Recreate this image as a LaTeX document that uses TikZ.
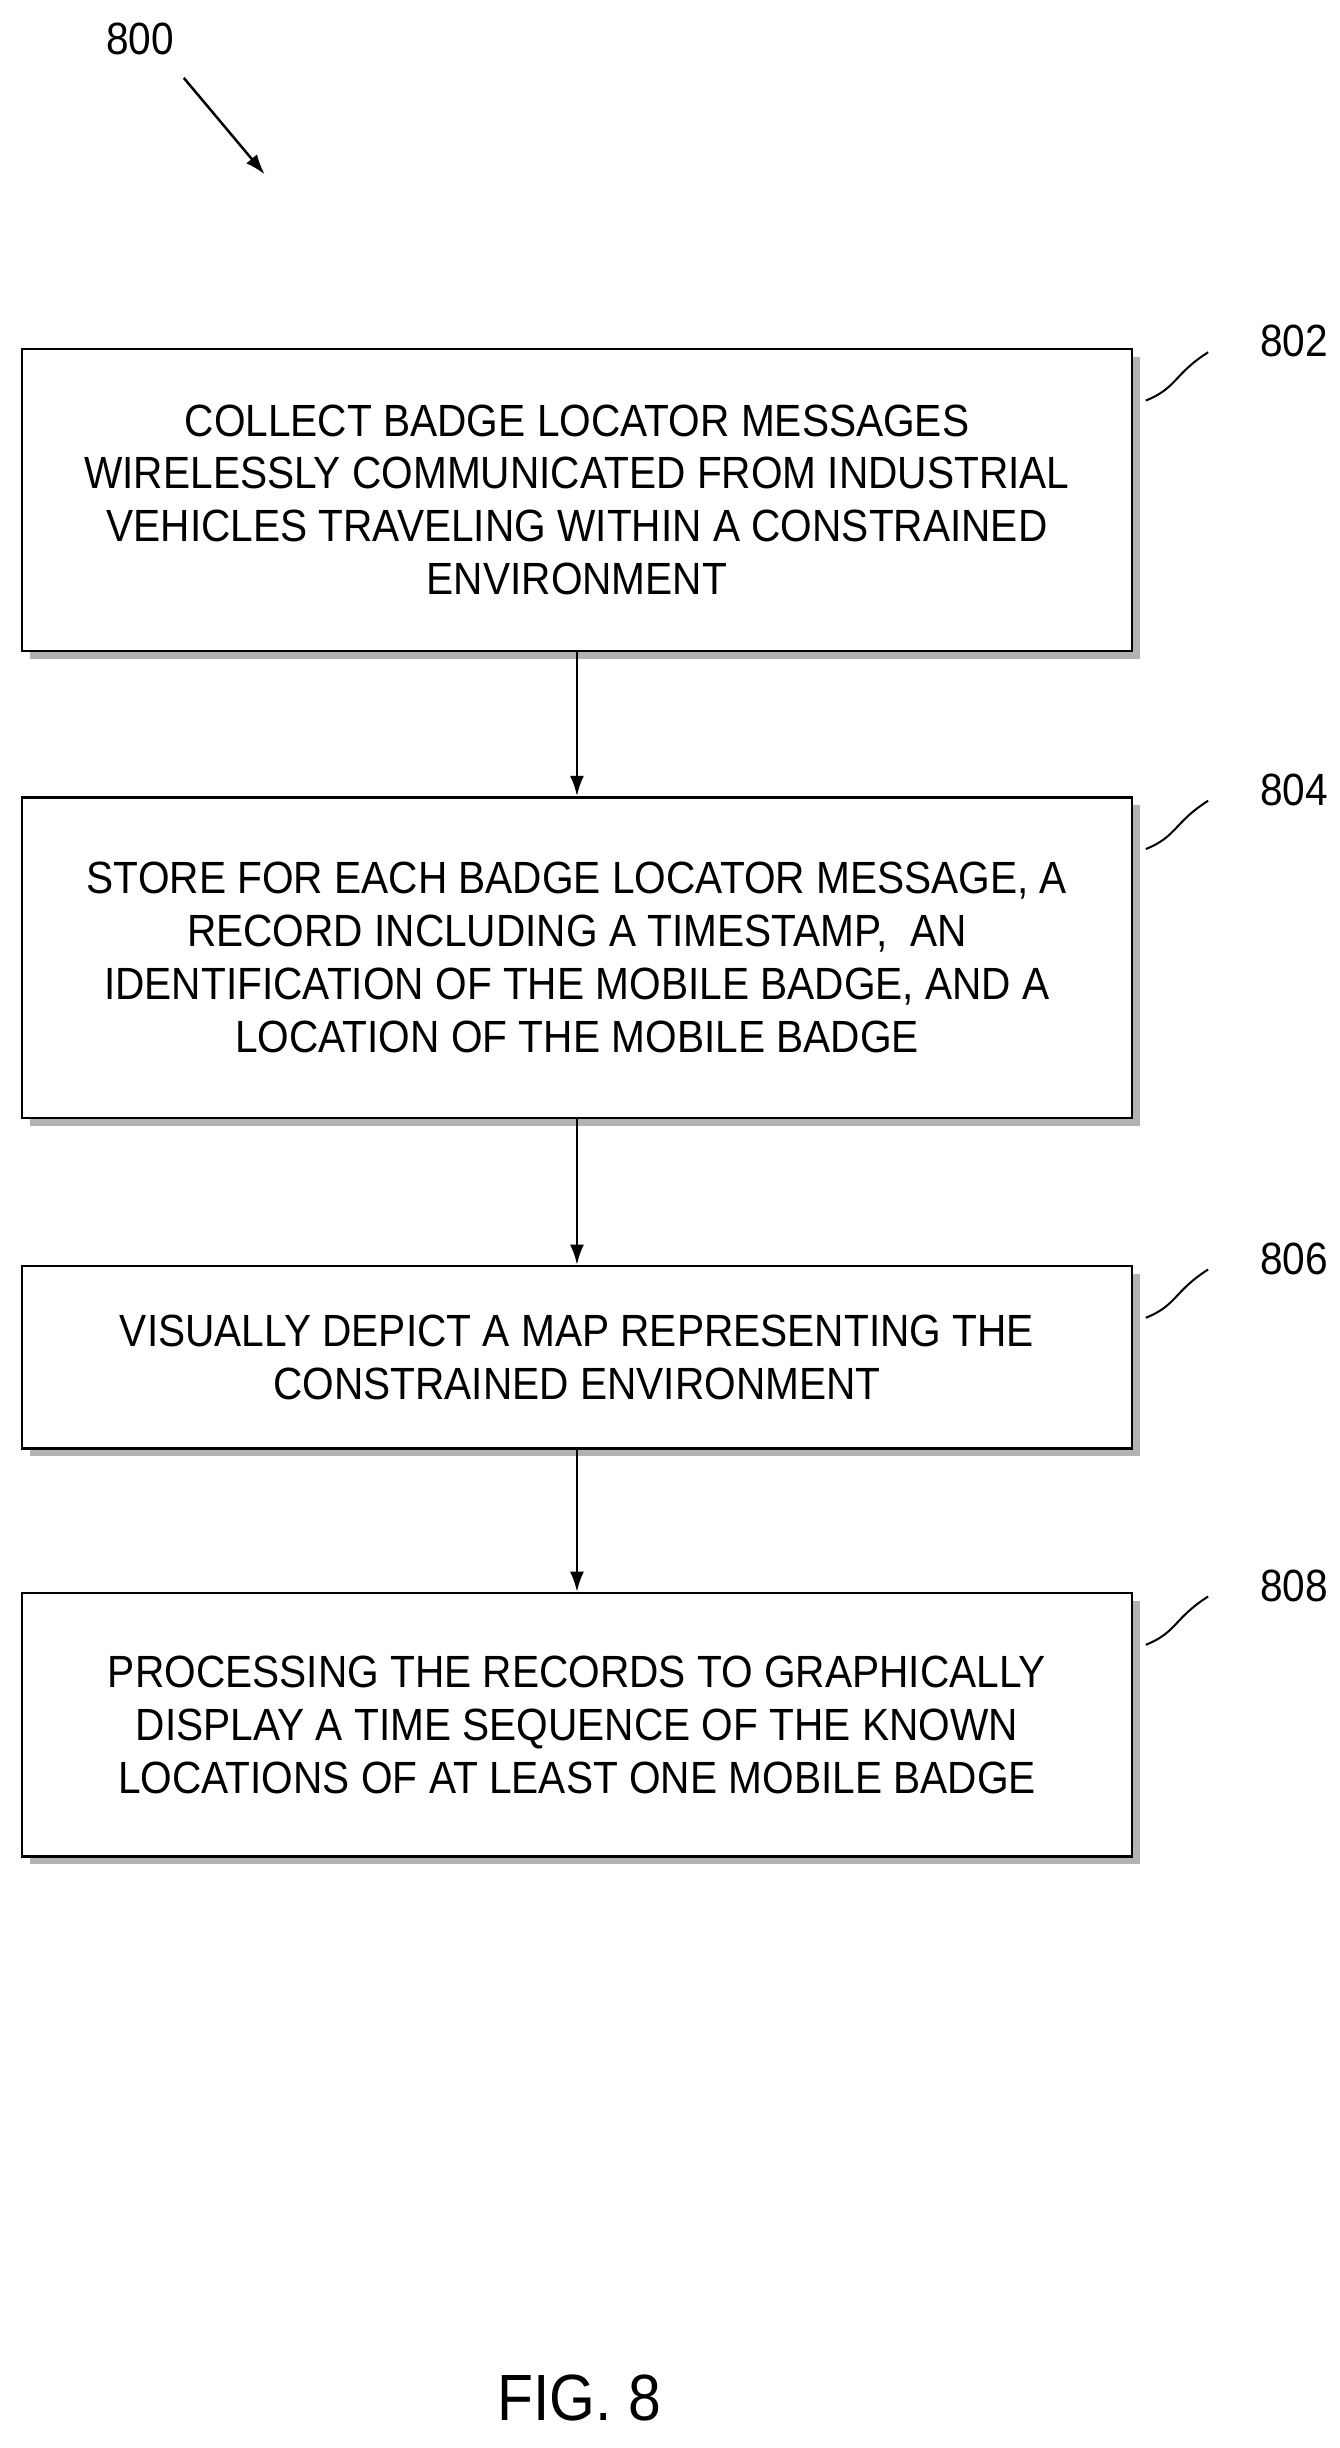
\documentclass[tikz,border=0pt]{standalone}
\usepackage{fontspec}
\setmainfont[FakeStretch=0.9]{Liberation Sans}
\usetikzlibrary{calc,shadows,arrows.meta}

\begin{document}
\begin{tikzpicture}[x=1pt,y=-1pt,
  stepbox/.style={draw,line width=1.6pt,fill=white,minimum width=713pt,align=center,
    font=\fontsize{29}{34}\selectfont,
    drop shadow={shadow xshift=5pt,shadow yshift=-5pt,fill=gray!60,opacity=1}},
  flow/.style={-{Latex[length=13pt,width=9pt]},line width=1.6pt},
  ref/.style={font=\fontsize{29}{30}\selectfont}]
%
\useasboundingbox (0,0) rectangle (860,1572);
%
\node[ref] (fig) at (90,25) {800};
\coordinate (figA) at (118,50);
\coordinate (figB) at (170,112);
\draw[flow] (figA)--(figB);
%
\node[stepbox,minimum height=194pt] (s802) at (370.5,321) {COLLECT BADGE LOCATOR MESSAGES\\WIRELESSLY COMMUNICATED FROM INDUSTRIAL\\VEHICLES TRAVELING WITHIN A CONSTRAINED\\ENVIRONMENT};
\node[stepbox,minimum height=206pt] (s804) at (370.5,615) {STORE FOR EACH BADGE LOCATOR MESSAGE, A\\RECORD INCLUDING A TIMESTAMP,\ \ AN\\IDENTIFICATION OF THE MOBILE BADGE, AND A\\LOCATION OF THE MOBILE BADGE};
\node[stepbox,minimum height=117pt] (s806) at (370.5,871.5) {VISUALLY DEPICT A MAP REPRESENTING THE\\CONSTRAINED ENVIRONMENT};
\node[stepbox,minimum height=169pt] (s808) at (370.5,1107.5) {PROCESSING THE RECORDS TO GRAPHICALLY\\DISPLAY A TIME SEQUENCE OF THE KNOWN\\LOCATIONS OF AT LEAST ONE MOBILE BADGE};
%
\draw[flow] (s802)--(s804);
\draw[flow] (s804)--(s806);
\draw[flow] (s806)--(s808);
%
\foreach \s in {802,804,806,808}{
  \coordinate (c\s) at ($(s\s.north east)+(8,34)$);
  \coordinate (d\s) at ($(s\s.north east)+(48,3)$);
  \draw[line width=1.3pt] (c\s) .. controls ($(c\s)+(20,-8)$) and ($(d\s)+(-22,14)$) .. (d\s);
  \node[ref,anchor=west] (l\s) at ($(d\s)+(30,-7)$) {\s};
}
%
\node[font=\fontsize{42}{44}\selectfont] (cap) at (372,1540) {FIG. 8};
\end{tikzpicture}
\end{document}
